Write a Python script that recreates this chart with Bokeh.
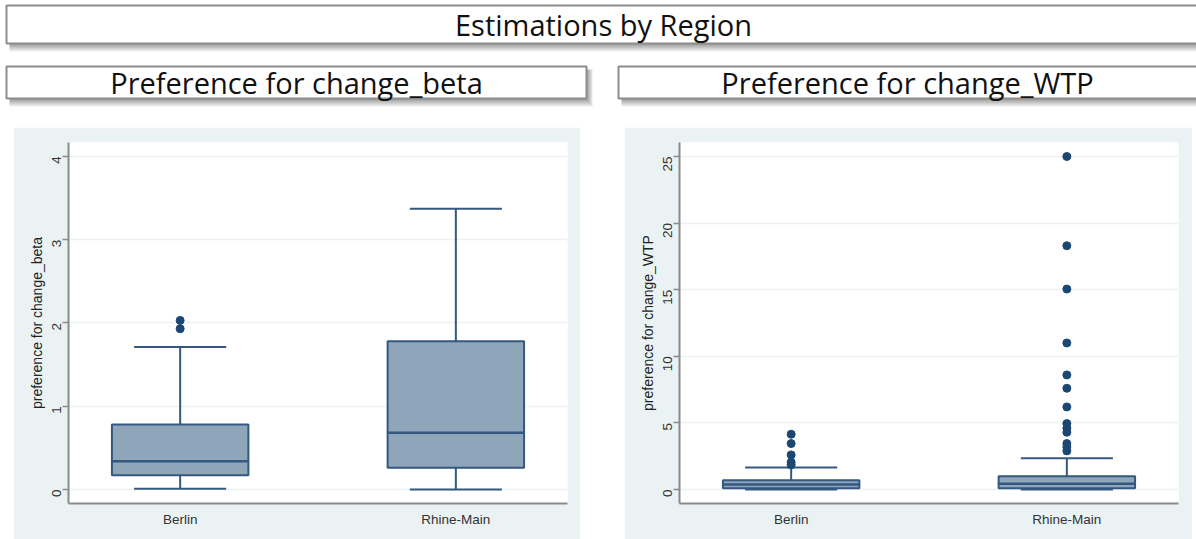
import math
from bokeh.plotting import figure
from bokeh.models import Range1d, FixedTicker, Spacer, ColumnDataSource
from bokeh.layouts import column, row
from bokeh.core.properties import value
from bokeh.embed import file_html
from bokeh.resources import INLINE

# ---------------- data ----------------
main_title = "Estimations by Region"
panel_titles = ["Preference for change_beta", "Preference for change_WTP"]
regions = ["Berlin", "Rhine-Main"]

beta_label = "preference for change_beta"
beta_lower = [0.01, 0.0]
beta_q1 = [0.17, 0.26]
beta_median = [0.34, 0.68]
beta_q3 = [0.78, 1.78]
beta_upper = [1.71, 3.37]
beta_out_berlin = [2.03, 1.93]
beta_out_rhine = []
beta_ticks = [0, 1, 2, 3, 4]

wtp_label = "preference for change_WTP"
wtp_lower = [0.0, 0.0]
wtp_q1 = [0.10, 0.10]
wtp_median = [0.37, 0.43]
wtp_q3 = [0.70, 1.00]
wtp_upper = [1.66, 2.35]
wtp_out_berlin = [4.15, 3.45, 2.6, 2.05, 1.85]
wtp_out_rhine = [25.0, 18.3, 15.05, 11.0, 8.6, 7.6, 6.2, 4.95, 4.6, 4.3, 3.45, 3.2, 2.9]
wtp_ticks = [0, 5, 10, 15, 20, 25]

# ---------------- styles ----------------
BG = "#EAF2F3"
BOX_FILL = "#8EA5BA"
BOX_LINE = "#34587F"
DOT = "#1B4872"
AXIS = "#8A8A8A"
TITLE_FONT = "Open Sans"
PLOT_FONT = "Liberation Sans"

# ---------------- header ----------------
hdr = figure(width=1196, height=127, x_range=Range1d(0, 1196), y_range=Range1d(127, 0),
             output_backend="svg", toolbar_location=None, x_axis_type=None, y_axis_type=None,
             min_border=0, outline_line_color=None, background_fill_color="white",
             border_fill_color="white")
hdr.grid.visible = False

boxes = [(6, 1210, 5, 43), (6, 586, 66, 98), (618, 1210, 66, 98)]
for (l, r, t, b) in boxes:
    for k in range(1, 9):
        hdr.quad(left=[l + 3], right=[r + k * 0.8], top=[t + 3], bottom=[b + k],
                 fill_color="black", fill_alpha=0.055, line_color=None)
for (l, r, t, b) in boxes:
    hdr.quad(left=[l], right=[r], top=[t], bottom=[b], fill_color="white",
             line_color="#8C8C8C", line_width=2)

hdr.text(x=[603], y=[24], text=[main_title], text_align="center", text_baseline="middle",
         text_font=value(TITLE_FONT), text_font_size="29px", text_color="#111111")
hdr.text(x=[296, 907], y=[82, 82], text=panel_titles, text_align="center",
         text_baseline="middle", text_font=value(TITLE_FONT), text_font_size="29px",
         text_color="#111111")


def make_panel(width, bl, br, yr, ticks, ylabel, lower, q1, med, q3, upper, outs):
    p = figure(width=width, height=412, x_range=Range1d(-0.405, 1.405), y_range=Range1d(*yr),
               output_backend="svg", toolbar_location=None,
               min_border_left=bl, min_border_right=br, min_border_top=15, min_border_bottom=36,
               background_fill_color="white", border_fill_color=BG, outline_line_color=None)
    xs = list(range(len(regions)))
    src = ColumnDataSource(dict(x=xs, lower=lower, q1=q1, med=med, q3=q3, upper=upper))
    # whiskers
    p.segment(x0="x", x1="x", y0="q3", y1="upper", source=src, line_color=BOX_LINE, line_width=2)
    p.segment(x0="x", x1="x", y0="lower", y1="q1", source=src, line_color=BOX_LINE, line_width=2)
    cap = 0.167
    p.segment(x0=[x - cap for x in xs], x1=[x + cap for x in xs], y0=upper, y1=upper,
              line_color=BOX_LINE, line_width=2)
    p.segment(x0=[x - cap for x in xs], x1=[x + cap for x in xs], y0=lower, y1=lower,
              line_color=BOX_LINE, line_width=2)
    # boxes
    p.vbar(x="x", width=0.495, top="q3", bottom="q1", source=src, fill_color=BOX_FILL,
           line_color=BOX_LINE, line_width=2)
    hw = 0.2475
    p.segment(x0=[x - hw for x in xs], x1=[x + hw for x in xs], y0=med, y1=med,
              line_color=BOX_LINE, line_width=2.5)
    # outliers
    for x, vals in zip(xs, outs):
        if vals:
            p.scatter(x=[x] * len(vals), y=vals, size=8, fill_color=DOT, line_color=DOT)

    # axes
    p.xaxis.ticker = FixedTicker(ticks=xs)
    p.xaxis.major_label_overrides = {x: r for x, r in zip(xs, regions)}
    p.xaxis.major_tick_out = 0
    p.xaxis.major_tick_in = 0
    p.xaxis.minor_tick_out = 0
    p.xaxis.major_label_standoff = 8
    p.yaxis.ticker = FixedTicker(ticks=ticks)
    p.yaxis.major_label_orientation = math.pi / 2
    p.yaxis.major_tick_out = 6
    p.yaxis.major_tick_in = 0
    p.yaxis.minor_tick_out = 0
    p.yaxis.minor_tick_in = 0
    p.yaxis.major_label_standoff = 6
    p.yaxis.axis_label = ylabel
    p.yaxis.axis_label_standoff = 0
    for ax in (p.xaxis, p.yaxis):
        ax.axis_line_color = AXIS
        ax.axis_line_width = 2
        ax.major_tick_line_color = AXIS
        ax.major_tick_line_width = 1.5
        ax.major_label_text_font = PLOT_FONT
        ax.major_label_text_font_size = "13.5px"
        ax.major_label_text_color = "#333333"
        ax.axis_label_text_font = PLOT_FONT
        ax.axis_label_text_font_size = "14px"
        ax.axis_label_text_font_style = "normal"
        ax.axis_label_text_color = "#222222"
    p.xgrid.visible = False
    p.ygrid.grid_line_color = BG
    p.ygrid.grid_line_width = 1.5
    return p


left = make_panel(567, 55, 13, (-0.168, 4.166), beta_ticks, beta_label,
                  beta_lower, beta_q1, beta_median, beta_q3, beta_upper,
                  [beta_out_berlin, beta_out_rhine])
right = make_panel(568, 55, 14, (-1.05, 26.05), wtp_ticks, wtp_label,
                   wtp_lower, wtp_q1, wtp_median, wtp_q3, wtp_upper,
                   [wtp_out_berlin, wtp_out_rhine])

layout = column(hdr, row(Spacer(width=13, height=412), left, Spacer(width=44, height=412), right,
                         spacing=0), spacing=0)

open("out.html", "w").write(file_html(layout, INLINE))
